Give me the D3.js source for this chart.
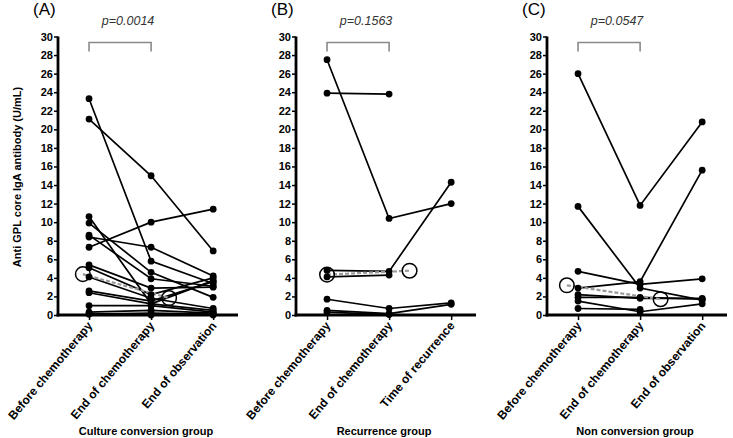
<!DOCTYPE html>
<html>
<head>
<meta charset="utf-8">
<script src="https://cdn.jsdelivr.net/npm/d3@7"></script>
<style>
  html, body { margin: 0; padding: 0; background: #fff; }
  svg { display: block; }
  text { font-family: "Liberation Sans", Arial, sans-serif; }
</style>
</head>
<body>
<svg id="chart" width="733" height="438"></svg>
<script>
// ---------- DATA ----------
const categoriesA = ["Before chemotherapy", "End of chemotherapy", "End of observation"];
const categoriesB = ["Before chemotherapy", "End of chemotherapy", "Time of recurrence"];
const categoriesC = ["Before chemotherapy", "End of chemotherapy", "End of observation"];

const panelLetters = ["(A)", "(B)", "(C)"];
const groupTitles = ["Culture conversion group", "Recurrence group", "Non conversion  group"];
const pValues = ["p=0.0014", "p=0.1563", "p=0.0547"];
const yTickValues = [0, 2, 4, 6, 8, 10, 12, 14, 16, 18, 20, 22, 24, 26, 28, 30];
const yTitle = "Anti GPL core IgA antibody (U/mL)";

// each row = one patient: [before, end of chemo, end of observation / recurrence]
const seriesA = [
  [23.3, 5.8, 3.4],
  [21.1, 15.0, 6.9],
  [10.6, 1.2, 3.7],
  [9.9, 4.6, 1.9],
  [8.6, 3.9, 3.1],
  [8.4, 7.3, 4.2],
  [7.3, 10.0, 11.4],
  [5.4, 2.9, 3.0],
  [5.1, 2.2, 4.0],
  [4.1, 1.8, 0.7],
  [2.6, 1.5, 3.6],
  [2.4, 1.2, 0.5],
  [1.0, 1.0, 0.3],
  [0.3, 0.5, 0.2],
  [0.1, 0.2, 0.1],
  [0.1, 0.0, 0.0]
];
const seriesB = [
  [27.5, 10.4, 12.0],
  [23.9, 23.8, null],
  [4.8, 4.7, 14.3],
  [4.1, 4.3, null],
  [1.7, 0.7, 1.3],
  [0.5, 0.15, 1.15],
  [0.3, 0.05, null]
];
const seriesC = [
  [26.0, 11.8, 20.8],
  [11.7, 2.9, 1.6],
  [4.7, 3.3, 3.9],
  [2.9, 3.6, 15.6],
  [2.2, 1.8, 1.8],
  [1.9, 1.9, 1.7],
  [1.5, 0.35, 1.2],
  [0.7, 0.6, null]
];
// median markers: [category index position, value]
const medianA = [[-0.1, 4.4], [1.29, 1.83]];
const medianB = [[0.0, 4.35], [1.33, 4.77]];
const medianC = [[-0.18, 3.2], [1.33, 1.7]];

// ---------- LAYOUT ----------
const panels = [
  { left: 58,  cats: categoriesA, series: seriesA, median: medianA },
  { left: 296, cats: categoriesB, series: seriesB, median: medianB },
  { left: 547, cats: categoriesC, series: seriesC, median: medianC }
];
const yTop = 36.5, yBottom = 315;
const y = d3.scaleLinear().domain([0, 30]).range([yBottom, yTop]);

const svg = d3.select("#chart");

panels.forEach((p, pi) => {
  const x = d3.scaleLinear().domain([-0.5, 2.4]).range([p.left, p.left + 180]);
  const g = svg.append("g");

  // data lines
  const line = d3.line()
    .defined(d => d[1] !== null)
    .x(d => x(d[0]))
    .y(d => y(d[1]));
  p.series.forEach(row => {
    const pts = row.map((v, i) => [i, v]);
    g.append("path").attr("d", line(pts))
      .attr("fill", "none").attr("stroke", "#000").attr("stroke-width", 1.7);
  });

  // median dashed line
  g.append("path")
    .attr("d", d3.line().x(d => x(d[0])).y(d => y(d[1]))(p.median))
    .attr("fill", "none").attr("stroke", "#9a9a9a").attr("stroke-width", 2.2)
    .attr("stroke-dasharray", "4,2");

  // dots
  p.series.forEach(row => {
    row.forEach((v, i) => {
      if (v === null) return;
      g.append("circle").attr("cx", x(i)).attr("cy", y(v)).attr("r", 3.4).attr("fill", "#000");
    });
  });

  // median open circles
  p.median.forEach(m => {
    g.append("circle").attr("cx", x(m[0])).attr("cy", y(m[1])).attr("r", 7.3)
      .attr("fill", "none").attr("stroke", "#000").attr("stroke-width", 1.5);
  });

  // y axis
  const yAxis = d3.axisLeft(y).tickValues(yTickValues).tickSize(4).tickPadding(1);
  const ya = g.append("g").attr("transform", `translate(${p.left},0)`).call(yAxis);
  ya.select(".domain").attr("stroke-width", 2.8).attr("d", `M0,${yBottom + 1.4}V${yTop}`);
  ya.selectAll(".tick line").attr("stroke-width", 1.5);
  ya.selectAll(".tick text").attr("font-size", 11).attr("font-weight", "bold")
    .attr("font-family", "Liberation Sans, Arial, sans-serif").attr("fill", "#000");

  // x axis
  const xa = g.append("g").attr("transform", `translate(0,${yBottom})`)
    .call(d3.axisBottom(x).tickValues([0, 1, 2]).tickSize(5).tickFormat(""));
  xa.select(".domain").attr("stroke-width", 2.8).attr("d", `M${p.left - 1.4},0H${x(2.4)}`);
  xa.selectAll(".tick line").attr("stroke-width", 1.5);

  // category labels
  p.cats.forEach((c, i) => {
    g.append("text")
      .attr("transform", `translate(${x(i) + 4},${yBottom + 11}) rotate(-50)`)
      .attr("text-anchor", "end")
      .attr("font-size", 12).attr("font-weight", "bold")
      .text(c);
  });

  // group title
  g.append("text").attr("x", p.left + 88).attr("y", 435)
    .attr("text-anchor", "middle").attr("font-size", 11).attr("font-weight", "bold")
    .text(groupTitles[pi]);

  // panel letter
  g.append("text").attr("x", p.left - 25).attr("y", 15)
    .attr("font-size", 17).text(panelLetters[pi]);

  // bracket
  const bx0 = x(0), bx1 = x(1);
  g.append("path").attr("d", `M${bx0},51.5V42.5H${bx1}V51.5`)
    .attr("fill", "none").attr("stroke", "#8a8a8a").attr("stroke-width", 1.6);
  g.append("text").attr("x", (bx0 + bx1) / 2 + 8).attr("y", 25)
    .attr("text-anchor", "middle").attr("font-size", 12.5).attr("font-style", "italic")
    .attr("fill", "#333").text(pValues[pi]);
});

// y title
svg.append("text")
  .attr("transform", "translate(21,177) rotate(-90)")
  .attr("text-anchor", "middle").attr("font-size", 11).attr("font-weight", "bold")
  .text(yTitle);
</script>
</body>
</html>
